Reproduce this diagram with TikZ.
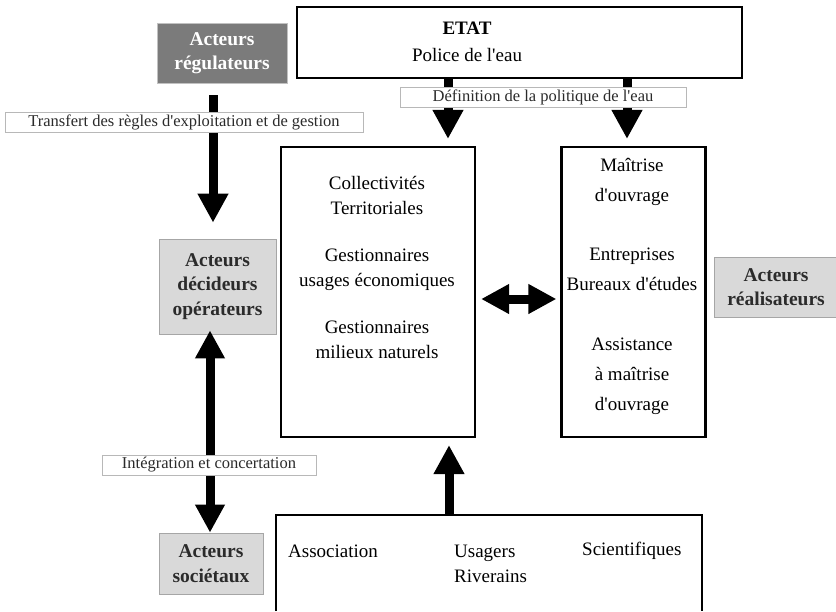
\documentclass[tikz,border=0pt]{standalone}
\usepackage{fontspec}
\setmainfont{Liberation Serif}[Ligatures=TeXOff]
\usetikzlibrary{arrows.meta,positioning}

\definecolor{grisfonce}{HTML}{7B7B7B}
\definecolor{grisclair}{HTML}{D9D9D9}
\definecolor{grisbord}{HTML}{A6A6A6}
\definecolor{gristexte}{HTML}{2B2B2B}

\begin{document}
\begin{tikzpicture}[x=1pt, y=-1pt, line join=miter,
    cadre/.style={draw, line width=2.2pt, inner sep=0pt},
    acteur/.style={draw=grisbord, line width=0.8pt, fill=grisclair, text=gristexte,
        font=\fontsize{19.5}{24.5}\selectfont\bfseries, align=center, inner sep=0pt},
    regulbox/.style={acteur, fill=grisfonce, draw=grisbord!70, text=white},
    etiquette/.style={draw=grisbord!80, line width=0.8pt, fill=white, text=gristexte,
        font=\fontsize{16.5}{18}\selectfont, inner sep=0pt},
    texte/.style={font=\fontsize{19}{25}\selectfont, align=center, inner sep=0pt},
    fleche/.style={line width=9pt, -{Triangle[length=29pt,width=29pt]}},
    doublefleche/.style={line width=9pt,
        {Triangle[length=28pt,width=28pt]}-{Triangle[length=28pt,width=28pt]}}
]
\useasboundingbox (0,0) rectangle (836,611);

% ETAT ------------------------------------------
\node[cadre, minimum width=445pt, minimum height=71pt] (etat) at (519.5,42.5) {};
\node[texte, font=\fontsize{19}{27}\selectfont] (etattxt) at (467,42)
    {\textbf{ETAT}\\Police de l'eau};

% Acteurs ---------------------------------------
\node[regulbox, minimum width=130pt, minimum height=60pt] (regul) at (222,53)
    {Acteurs\\régulateurs};
\node[acteur, minimum width=117pt, minimum height=95pt] (decid) at (217.5,286.5)
    {Acteurs\\décideurs\\opérateurs};
\node[acteur, minimum width=104pt, minimum height=61pt] (societ) at (211,563.5)
    {Acteurs\\sociétaux};
\node[acteur, minimum width=124pt, minimum height=60pt] (realis) at (776,287)
    {Acteurs\\réalisateurs};

% Cadres centraux -------------------------------
\node[cadre, minimum width=194pt, minimum height=290pt] (collect) at (378,292) {};
\node[texte] (collecttxt) at (377,267.5)
    {Collectivités\\Territoriales\\[22pt]Gestionnaires\\usages économiques\\[22pt]Gestionnaires\\milieux naturels};

\node[cadre, minimum width=144pt, minimum height=290pt] (maitrise) at (633.5,292) {};
\node[texte, font=\fontsize{19}{30}\selectfont] (maitrisetxt) at (632,286.5)
    {Maîtrise\\d'ouvrage\\[29pt]Entreprises\\Bureaux d'études\\[30pt]Assistance\\à maîtrise\\d'ouvrage};

% Usagers (cadre ouvert en bas) -----------------
\node[minimum width=426pt, minimum height=96pt, inner sep=0pt] (usagers) at (489,563) {};
\draw[line width=2.2pt] (usagers.south west) |- (usagers.north east) -- (usagers.south east);
\node[texte, anchor=west] (assoc) at (288,551) {Association};
\node[texte, anchor=west, align=left] (riverains) at (454,563.5) {Usagers\\Riverains};
\node[texte, anchor=west] (scient) at (582,551) {Scientifiques};

% Fleches ---------------------------------------
\coordinate (colA) at (448,0);
\coordinate (colB) at (627,0);
\coordinate (colC) at (213,0);
\coordinate (colD) at (210,0);
\coordinate (colF) at (449,0);
\coordinate (ligneE) at (0,299);

\draw[fleche, shorten >=7pt] (etat.south -| colA) -- (collect.north -| colA);
\draw[fleche, shorten >=7pt] (etat.south -| colB) -- (maitrise.north -| colB);
\draw[fleche, shorten <=12pt, shorten >=16pt] (regul.south -| colC) -- (decid.north -| colC);
\draw[doublefleche, shorten <=-4pt] (decid.south -| colD) -- (societ.north -| colD);
\draw[doublefleche, shorten <=5pt, shorten >=4pt] (collect.east |- ligneE) -- (maitrise.west |- ligneE);
\draw[fleche, shorten >=7pt] (usagers.north -| colF) -- (collect.south -| colF);

% Etiquettes ------------------------------------
\node[etiquette, minimum width=358pt, minimum height=20pt] (transfert) at (184,122)
    {Transfert des règles d'exploitation et de gestion};
\node[etiquette, minimum width=286pt, minimum height=20pt] (definition) at (543,97)
    {Définition de la politique de l'eau};
\node[etiquette, minimum width=214pt, minimum height=20pt] (integration) at (209,465)
    {Intégration et concertation};

\end{tikzpicture}
\end{document}
